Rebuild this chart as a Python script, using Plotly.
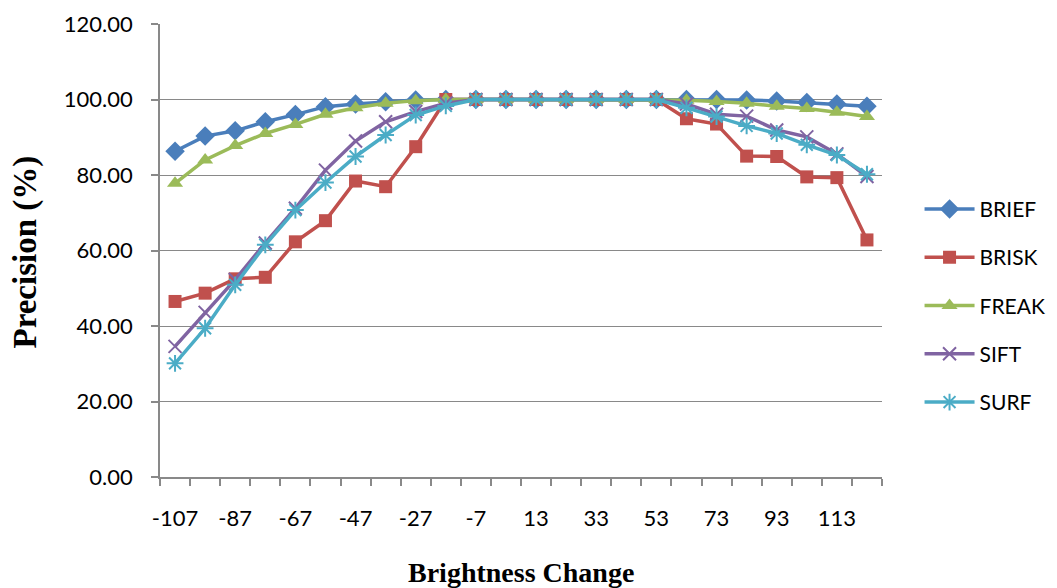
import plotly.graph_objects as go

# Brightness offsets (one category every 10 units)
brightness = [-107, -97, -87, -77, -67, -57, -47, -37, -27, -17, -7, 3,
              13, 23, 33, 43, 53, 63, 73, 83, 93, 103, 113, 123]
tick_labels = [-107, -87, -67, -47, -27, -7, 13, 33, 53, 73, 93, 113]
y_ticks = [0, 20, 40, 60, 80, 100, 120]

brief = [86.3, 90.3, 91.7, 94.1, 96.0, 98.1, 98.8, 99.4, 99.9, 100.0, 100.0, 100.0,
         100.0, 100.0, 100.0, 100.0, 100.0, 100.0, 100.0, 99.9, 99.6, 99.2, 98.8, 98.2]
brisk = [46.5, 48.7, 52.5, 52.9, 62.3, 67.9, 78.4, 76.9, 87.5, 100.0, 100.0, 100.0,
         100.0, 100.0, 100.0, 100.0, 100.0, 94.9, 93.5, 85.0, 84.9, 79.5, 79.3, 62.8]
freak = [77.8, 84.0, 87.8, 91.0, 93.4, 96.1, 97.8, 99.0, 99.7, 100.0, 100.0, 100.0,
         100.0, 100.0, 100.0, 100.0, 100.0, 99.8, 99.5, 99.0, 98.2, 97.6, 96.6, 95.5]
sift = [34.6, 43.6, 52.3, 62.0, 71.2, 81.3, 89.0, 94.1, 96.8, 99.0, 100.0, 100.0,
        100.0, 100.0, 100.0, 100.0, 100.0, 98.8, 96.1, 95.6, 91.9, 90.1, 85.6, 79.6]
surf = [30.1, 39.4, 50.9, 61.5, 70.7, 78.0, 84.9, 90.6, 95.9, 98.3, 100.0, 100.0,
        100.0, 100.0, 100.0, 100.0, 100.0, 97.8, 95.5, 93.0, 91.0, 88.0, 85.3, 80.2]

series = [
    ("BRIEF", brief, "#4A7EBB", "diamond", 15, 0),
    ("BRISK", brisk, "#C0504D", "square", 13, 0),
    ("FREAK", freak, "#9BBB59", "triangle-up", 14, 0),
    ("SIFT", sift, "#8064A2", "x-thin-open", 13, 2),
    ("SURF", surf, "#4BACC6", "asterisk-open", 14, 2),
]

fig = go.Figure()
for name, vals, color, symbol, size, mlw in series:
    fig.add_trace(go.Scatter(
        x=brightness, y=vals, name=name, mode="lines+markers",
        legendgroup=name,
        line=dict(color=color, width=3.5),
        marker=dict(symbol=symbol, size=size, color=color,
                    line=dict(color=color, width=mlw)),
    ))

axis_grey = "#898989"
label_font = dict(family="Lato, Carlito, Calibri, sans-serif", size=22, color="#000000")

fig.update_layout(
    width=1057, height=588,
    margin=dict(l=160, r=175, t=24, b=111, autoexpand=False),
    paper_bgcolor="white", plot_bgcolor="white",
    showlegend=True,
    legend=dict(
        x=1.052, xanchor="left", xref="paper", y=0.378, yanchor="middle",
        font=dict(family="Lato, Carlito, Calibri, sans-serif", size=21, color="#000000"),
        traceorder="grouped", tracegroupgap=18, itemwidth=50,
        bgcolor="rgba(0,0,0,0)",
    ),
    xaxis=dict(
        range=[-112, 128], tickmode="array", tickvals=tick_labels,
        ticktext=[str(t) for t in tick_labels],
        ticks="", showgrid=False, zeroline=False,
        showline=True, linecolor=axis_grey, linewidth=1.5,
        tickfont=label_font, ticklabelstandoff=21,
        minor=dict(tickmode="linear", tick0=-112, dtick=10, ticks="outside",
                   ticklen=7, tickwidth=1.5, tickcolor=axis_grey, showgrid=False),
    ),
    yaxis=dict(
        range=[0, 120], tickmode="array", tickvals=y_ticks,
        ticktext=[f"{v:.2f}" for v in y_ticks],
        ticks="outside", ticklen=7, tickwidth=1.5, tickcolor=axis_grey,
        showgrid=True, gridcolor=axis_grey, gridwidth=1.4,
        zeroline=False, showline=True, linecolor=axis_grey, linewidth=1.5,
        tickfont=label_font, ticklabelstandoff=14,
    ),
)

serif = "Liberation Serif, Times New Roman, serif"
fig.add_annotation(
    text="<b>Precision (%)</b>", textangle=-90,
    font=dict(family=serif, size=33, color="#000000"),
    xref="paper", yref="paper", x=0, y=0.5, xanchor="center", yanchor="middle",
    xshift=-135, yshift=-2, showarrow=False,
)
fig.add_annotation(
    text="<b>Brightness Change</b>",
    font=dict(family=serif, size=28, color="#000000"),
    xref="paper", yref="paper", x=0.5, y=0, xanchor="center", yanchor="middle",
    yshift=-95, showarrow=False,
)

fig.write_html("out.html")
